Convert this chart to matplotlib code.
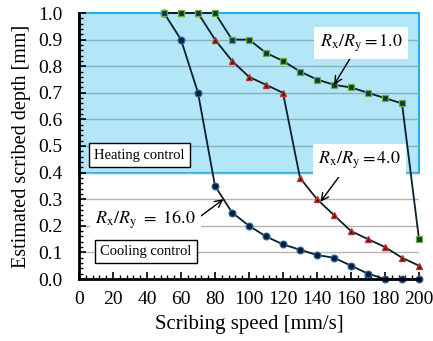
import matplotlib
matplotlib.use("Agg")
import matplotlib.pyplot as plt
from matplotlib.patches import Rectangle
from matplotlib.ticker import MultipleLocator

plt.rcParams['font.family'] = ['Liberation Serif', 'DejaVu Serif']
plt.rcParams['mathtext.fontset'] = 'stix'

speed = [50, 60, 70, 80, 90, 100, 110, 120, 130, 140, 150, 160, 170, 180, 190, 200]
depth_r1 = [1.0, 1.0, 1.0, 1.0, 0.90, 0.90, 0.85, 0.82, 0.78, 0.75, 0.73, 0.72, 0.70, 0.68, 0.66, 0.15]
depth_r4 = [1.0, 1.0, 1.0, 0.90, 0.82, 0.76, 0.73, 0.70, 0.38, 0.30, 0.24, 0.18, 0.15, 0.12, 0.08, 0.05]
depth_r16 = [1.0, 0.90, 0.70, 0.35, 0.25, 0.20, 0.16, 0.13, 0.11, 0.09, 0.08, 0.05, 0.02, 0.0, 0.0, 0.0]

fig = plt.figure(figsize=(4.33, 3.41), dpi=100)
ax = fig.add_axes([79/433, 62/341, 340/433, 266/341])
ax.set_xlim(0, 200)
ax.set_ylim(0, 1.0)

# heating region
ax.add_patch(Rectangle((0, 0.4), 200, 0.6, facecolor='#b3e6f7', edgecolor='#22b0e8',
                       linewidth=1.5, zorder=0.5, clip_on=False))

for yv in [0.1, 0.2, 0.3]:
    ax.axhline(yv, color='#b4b4b4', linewidth=1.0, zorder=0.8)
for yv in [0.4, 0.5, 0.6, 0.7, 0.8, 0.9]:
    ax.axhline(yv, color='#86aebb', linewidth=1.0, zorder=0.8)

line_col = '#0b1f2c'
ax.plot(speed, depth_r16, color=line_col, lw=1.3, marker='o', ms=5,
        mfc='#0a1f3a', mec='#2f6fb0', mew=0.8, zorder=3, clip_on=False)
ax.plot(speed, depth_r4, color=line_col, lw=1.3, marker='^', ms=5,
        mfc='#3a1a1a', mec='#c0302a', mew=1.0, zorder=3, clip_on=False)
ax.plot(speed, depth_r1, color=line_col, lw=1.3, marker='s', ms=4.3,
        mfc='#0d3a3a', mec='#6fae44', mew=0.9, zorder=4, clip_on=False)

ax.xaxis.set_major_locator(MultipleLocator(20))
ax.xaxis.set_minor_locator(MultipleLocator(4))
ax.yaxis.set_major_locator(MultipleLocator(0.1))
ax.yaxis.set_minor_locator(MultipleLocator(0.02))
ax.tick_params(which='both', direction='in', top=False, right=False, color='black')
ax.tick_params(which='major', length=5, width=1.2, labelsize=14)
ax.tick_params(which='minor', length=3, width=1.0)
ax.tick_params(axis='y', which='major', pad=12)
ax.tick_params(axis='x', which='major', pad=9)
ax.yaxis.set_major_formatter(matplotlib.ticker.FormatStrFormatter('%.1f'))

for s in ['top', 'right']:
    ax.spines[s].set_visible(False)
for s in ['left', 'bottom']:
    ax.spines[s].set_linewidth(2)
    ax.spines[s].set_zorder(5)

ax.set_xlabel('Scribing speed [mm/s]', fontsize=15, labelpad=5)
ax.set_ylabel('Estimated scribed depth [mm]', fontsize=14.5, labelpad=5)

box_plain = dict(boxstyle='square,pad=0.3', facecolor='white', edgecolor='none')
box_frame = dict(boxstyle='square,pad=0.35', facecolor='white', edgecolor='black', linewidth=1)

ax.annotate(r'$R_\mathrm{x}/R_\mathrm{y} = 1.0$', xy=(150, 0.73), xytext=(166, 0.887),
            fontsize=13, ha='center', va='center', bbox=box_plain, zorder=6,
            arrowprops=dict(arrowstyle='->', color='black', lw=1, shrinkA=0, shrinkB=0,
                            relpos=(0.4, 0.0)))
ax.annotate(r'$R_\mathrm{x}/R_\mathrm{y} = 4.0$', xy=(142, 0.29), xytext=(165, 0.445),
            fontsize=13, ha='center', va='center', bbox=box_plain, zorder=6,
            arrowprops=dict(arrowstyle='->', color='black', lw=1, shrinkA=0, shrinkB=0,
                            relpos=(0.3, 0.0)))
ax.annotate(r'$R_\mathrm{x}/R_\mathrm{y}\ =\ 16.0$', xy=(85, 0.30), xytext=(39, 0.222),
            fontsize=13, ha='center', va='center', bbox=box_plain, zorder=6,
            arrowprops=dict(arrowstyle='->', color='black', lw=1, shrinkA=0, shrinkB=0,
                            relpos=(1.0, 0.5)))

ax.text(35.6, 0.466, 'Heating control', fontsize=10.5, ha='center', va='center',
        bbox=box_frame, zorder=6)
ax.text(39.4, 0.103, 'Cooling control', fontsize=10.5, ha='center', va='center',
        bbox=box_frame, zorder=6)

fig.savefig('out.png', dpi=100)
